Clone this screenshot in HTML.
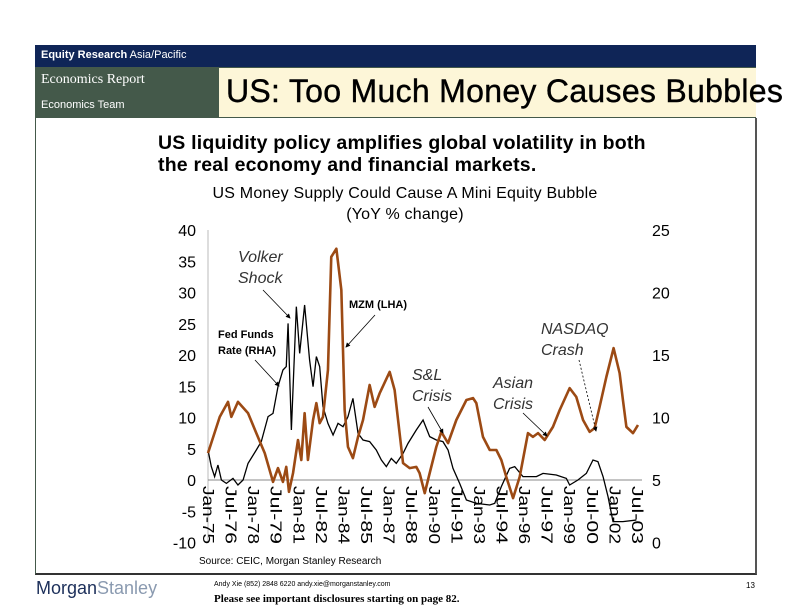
<!DOCTYPE html>
<html><head><meta charset="utf-8"><style>
body{margin:0;width:792px;height:612px;background:#fff;position:relative;overflow:hidden;font-family:"Liberation Sans",sans-serif}
.a{position:absolute;white-space:nowrap}
</style></head><body>
<div class="a" style="left:35px;top:45px;width:721px;height:22px;background:#0f2557"></div>
<div class="a" style="left:41px;top:49px;font-size:11px;color:#fff"><b>Equity Research</b> Asia/Pacific</div>
<div class="a" style="left:35px;top:67px;width:721px;height:51px;background:#44594a"></div>
<div class="a" style="left:41px;top:72px;font-family:'Liberation Serif',serif;font-size:14px;color:#fff">Economics Report</div>
<div class="a" style="left:41px;top:99px;font-size:11px;color:#fff">Economics Team</div>
<div class="a" style="left:219px;top:68px;width:537px;height:49px;background:#fdf6d8;overflow:visible"><div class="a" style="left:7px;top:5px;font-size:32px;letter-spacing:0.3px;color:#000;-webkit-text-stroke:0.4px #000">US: Too Much Money Causes Bubbles</div></div>
<div class="a" style="left:35px;top:118px;width:719px;height:455px;border-left:1px solid #44594a;border-right:2px solid #555;border-bottom:2px solid #333"></div>
<div class="a" style="left:158px;top:132px;font-size:19.5px;letter-spacing:0.2px;font-weight:bold;line-height:22px;color:#000">US liquidity policy amplifies global volatility in both<br>the real economy and financial markets.</div>
<div class="a" style="left:405px;top:183px;transform:translateX(-50%);font-size:16px;letter-spacing:0.2px;line-height:21px;text-align:center;color:#000">US Money Supply Could Cause A Mini Equity Bubble<br>(YoY % change)</div>
<svg class="a" style="left:0;top:0" width="792" height="612" id="ch"></svg>
<div class="a" style="left:199px;top:556px;font-size:10px;color:#000">Source: CEIC, Morgan Stanley Research</div>
<div class="a" style="left:36px;top:578px;font-size:18px;color:#1c2f5a">Morgan<span style="color:#8a9ab0">Stanley</span></div>
<div class="a" style="left:214px;top:581px;font-size:7px;color:#000">Andy Xie (852) 2848 6220  andy.xie@morganstanley.com</div>
<div class="a" style="left:214px;top:593px;font-family:'Liberation Serif',serif;font-size:11px;font-weight:bold;color:#000">Please see important disclosures starting on page 82.</div>
<div class="a" style="left:746px;top:581px;font-size:8px;color:#000">13</div>
<script>
const mzmYears=[1975.00,1975.78,1976.33,1976.55,1976.99,1977.66,1978.21,1978.77,1979.32,1979.65,1979.98,1980.20,1980.38,1980.65,1980.98,1981.20,1981.42,1981.64,1981.98,1982.20,1982.42,1982.64,1982.97,1983.19,1983.53,1983.86,1984.08,1984.30,1984.63,1984.97,1985.30,1985.74,1986.07,1986.41,1987.07,1987.40,1987.96,1988.40,1988.84,1989.06,1989.40,1989.73,1990.17,1990.50,1990.95,1991.50,1992.17,1992.61,1992.83,1993.27,1993.72,1994.16,1994.49,1994.82,1995.27,1995.71,1996.26,1996.59,1996.93,1997.37,1997.92,1998.37,1999.03,1999.47,1999.92,2000.36,2000.69,2001.02,2001.47,2001.95,2002.35,2002.57,2002.80,2003.24,2003.57];
const mzmValues=[4.3,10.1,12.5,10.1,12.5,10.7,7.5,4.3,-0.3,1.9,-0.3,2.1,-1.9,1.1,6.4,3.2,10.7,3.2,9.6,12.3,9.1,10.1,17.6,35.7,37.0,30.4,11.2,5.3,3.5,6.9,9.6,15.2,11.7,13.9,17.3,14.4,2.7,1.9,2.1,1.1,-2.1,1.1,5.3,7.7,5.9,9.6,12.8,13.1,12.3,6.9,4.8,4.8,3.2,0.5,-2.9,0.5,7.5,6.9,7.5,6.4,8.5,11.2,14.7,13.3,9.6,7.7,8.3,11.7,16.5,21.1,17.1,12.8,8.5,7.5,8.8];
const ffYears=[1975.00,1975.22,1975.44,1975.66,1975.89,1976.22,1976.66,1976.99,1977.33,1977.66,1978.21,1978.54,1978.99,1979.32,1979.65,1979.98,1980.20,1980.32,1980.54,1980.87,1981.09,1981.42,1981.75,1981.98,1982.20,1982.42,1982.64,1982.97,1983.31,1983.64,1983.97,1984.30,1984.63,1984.97,1985.30,1985.74,1986.18,1986.52,1986.85,1987.18,1987.51,1987.96,1988.29,1988.84,1989.29,1989.73,1990.17,1990.61,1990.95,1991.28,1991.72,1992.17,1992.83,1993.72,1994.05,1994.49,1995.04,1995.38,1995.93,1996.82,1997.26,1998.14,1998.81,1999.03,1999.58,2000.14,2000.58,2000.91,2001.25,2001.58,2001.91,2002.57,2003.46];
const ffValues=[7.4,6.07,5.27,6.2,5.0,4.73,5.13,4.6,5.0,6.33,7.4,8.07,10.07,10.33,12.47,13.8,14.07,17.53,9.0,18.87,15.13,19.0,14.6,12.47,14.87,14.07,10.87,9.53,8.6,9.53,9.27,10.07,11.53,8.73,8.2,8.07,7.4,6.6,6.07,6.73,6.33,7.13,7.93,9.0,9.8,8.47,8.2,8.07,7.4,5.93,4.73,3.4,3.13,3.0,3.13,4.47,5.93,6.07,5.27,5.27,5.53,5.4,5.13,4.6,5.0,5.53,6.6,6.47,5.27,3.67,1.67,1.67,1.8];
const leftTicks=[40,35,30,25,20,15,10,5,0,-5,-10];
const rightTicks=[25,20,15,10,5,0];
const xLabels=["Jan-75","Jul-76","Jan-78","Jul-79","Jan-81","Jul-82","Jan-84","Jul-85","Jan-87","Jul-88","Jan-90","Jul-91","Jan-93","Jul-94","Jan-96","Jul-97","Jan-99","Jul-00","Jan-02","Jul-03"];
const xLabelYears=[1975,1976.5,1978,1979.5,1981,1982.5,1984,1985.5,1987,1988.5,1990,1991.5,1993,1994.5,1996,1997.5,1999,2000.5,2002,2003.5];

const X=y=>208+(y-1975)*15.05;
const YL=v=>480-v*6.25;
const YR=v=>480-(v-5)*12.5;
const svg=document.getElementById('ch');
const NS='http://www.w3.org/2000/svg';
function mk(t,a,txt){const e=document.createElementNS(NS,t);for(const k in a)e.setAttribute(k,a[k]);if(txt!==undefined)e.textContent=txt;svg.appendChild(e);return e;}
let e;
e=mk('line',{x1:208,y1:230,x2:208,y2:543,stroke:'#bbb','stroke-width':1});


e=mk('line',{x1:208,y1:480,x2:642,y2:480,stroke:'#888','stroke-width':1});


leftTicks.forEach(v=>{
 e=mk('text',{x:196,y:YL(v)+6,'text-anchor':'end','font-size':16,fill:'#000','font-family':'Liberation Sans'},String(v));
 
 
});
rightTicks.forEach(v=>{
 e=mk('text',{x:652,y:YR(v)+6,'font-size':16,fill:'#000','font-family':'Liberation Sans'},String(v));
 
 
});
xLabels.forEach((l,i)=>{
 const x=X(xLabelYears[i]);
 e=mk('text',{x:0,y:0,transform:`translate(${x-5},486) rotate(90)`,'font-size':16,fill:'#000','font-family':'Liberation Sans','textLength':58,'lengthAdjust':'spacingAndGlyphs'},l);
 
 
});
e=mk('polyline',{points:ffYears.map((y,i)=>X(y)+','+YR(ffValues[i])).join(' '),fill:'none',stroke:'#000','stroke-width':1.3});


e=mk('polyline',{points:mzmYears.map((y,i)=>X(y)+','+YL(mzmValues[i])).join(' '),fill:'none',stroke:'#9c4a14','stroke-width':2.6,'stroke-linejoin':'round'});


function note(lines,x,y,name,bold){lines.forEach((t,i)=>{e=mk('text',{x:x,y:y+i*(bold?16:21),'font-size':bold?11:16,'font-weight':bold?'bold':'normal','font-style':bold?'normal':'italic',fill:bold?'#000':'#333','font-family':'Liberation Sans'},t);});}
note(['Volker','Shock'],238,262,'volker-annotation',false);
note(['Fed Funds','Rate (RHA)'],218,338,'fed-funds-legend',true);
note(['MZM (LHA)'],349,308,'mzm-legend',true);
note(['S&L','Crisis'],412,380,'sl-crisis-annotation',false);
note(['Asian','Crisis'],493,388,'asian-crisis-annotation',false);
note(['NASDAQ','Crash'],541,334,'nasdaq-annotation',false);
mk('defs',{}).innerHTML='<marker id="ar" markerWidth="6" markerHeight="6" refX="5" refY="3" orient="auto"><path d="M0,0 L6,3 L0,6z" fill="#000"/></marker>';
[[263,290,290,318,0],[255,360,279,386,0],[375,315,346,347,0],[428,407,443,433,0],[523,413,547,436,0],[579,360,596,431,1]].forEach(a=>{
 e=mk('line',{x1:a[0],y1:a[1],x2:a[2],y2:a[3],stroke:'#000','stroke-width':0.8,'marker-end':'url(#ar)','stroke-dasharray':a[4]?'2,2':'none'});
 
 
});
</script>
</body></html>
